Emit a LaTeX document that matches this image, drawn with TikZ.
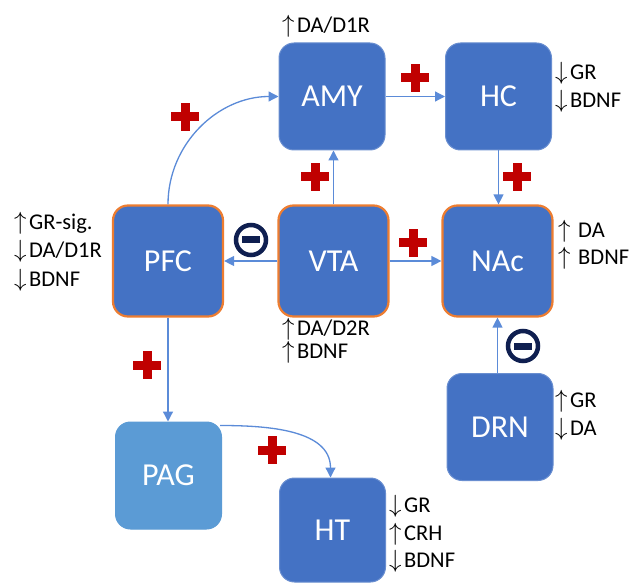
\documentclass[tikz,border=0pt]{standalone}
\usepackage{fontspec}
\setmainfont{Carlito}
\usetikzlibrary{arrows.meta,calc}
\definecolor{boxblue}{HTML}{4472C4}
\definecolor{pagblue}{HTML}{5B9BD5}
\definecolor{orng}{HTML}{ED7D31}
\definecolor{arrblue}{HTML}{5B8BD8}
\definecolor{plusred}{HTML}{C00000}
\definecolor{navy}{HTML}{0F1F50}
\newcommand{\up}{{\fontsize{24}{24}\selectfont$\uparrow$}\hspace{2.5pt}}
\newcommand{\dn}{{\fontsize{24}{24}\selectfont$\downarrow$}\hspace{2.5pt}}
\begin{document}
\begin{tikzpicture}[x=1pt,y=-1pt,
 region/.style={rounded corners=15pt, fill=boxblue, draw=boxblue!80!white, line width=1pt,
   minimum width=106pt, minimum height=107pt, text=white,
   font=\fontsize{32}{36}\selectfont, inner sep=0},
 hub/.style={region, draw=orng, line width=2.2pt, minimum width=110pt, minimum height=111pt},
 conn/.style={draw=arrblue, line width=1.3pt, -{Triangle[length=10pt,width=10pt]}},
 lbl/.style={anchor=base west, font=\fontsize{22.5}{26}\selectfont, inner sep=0},
 plus/.style={minimum size=28pt, inner sep=0,
   path picture={\fill[plusred] ([xshift=-14pt,yshift=-4.5pt]path picture bounding box.center) rectangle ([xshift=14pt,yshift=4.5pt]path picture bounding box.center);
   \fill[plusred] ([xshift=-4.5pt,yshift=-14pt]path picture bounding box.center) rectangle ([xshift=4.5pt,yshift=14pt]path picture bounding box.center);}},
 minus/.style={circle, draw=navy, line width=4.5pt, fill=white, minimum size=30pt, inner sep=0,
   path picture={\fill[navy] ([xshift=-9pt,yshift=-3.5pt]path picture bounding box.center) rectangle ([xshift=9pt,yshift=3.5pt]path picture bounding box.center);}},
]
\useasboundingbox[fill=white] (0,0) rectangle (638,583);

% regions
\node[region] (amy) at (332,96.5) {AMY};
\node[region] (hc) at (498.5,96.5) {HC};
\node[hub] (pfc) at (168,261) {PFC};
\node[hub] (vta) at (333.5,261) {VTA};
\node[hub] (nac) at (497.5,261) {NAc};
\node[region] (drn) at (500,427) {DRN};
\node[region, fill=pagblue, draw=pagblue] (pag) at (168.5,475.5) {PAG};
\node[region, minimum height=104pt] (ht) at (332.5,530) {HT};

% connectors
\draw[conn] (pfc.north) to[out=90,in=180] (amy.west);
\draw[conn] (amy.east) -- (hc.west);
\draw[conn] (vta.north) -- (vta.north |- amy.south);
\draw[conn] (hc.south) -- (hc.south |- nac.north);
\draw[conn] (vta.west) -- (pfc.east);
\draw[conn] (vta.east) -- (nac.west);
\draw[conn] (nac.south |- drn.north) -- (nac.south);
\draw[conn] (pfc.south) -- (pfc.south |- pag.north);
\coordinate (pagc) at ($(pag.north east)+(-2,4)$);
\draw[conn] (pagc) to[out=0,in=90] ([xshift=-2pt]ht.north);

% signs
\node[plus] (p1) at (185,117) {};
\node[plus] (p2) at (415,78) {};
\node[plus] (p3) at (315,177) {};
\node[plus] (p4) at (517,177) {};
\node[plus] (p5) at (413,243) {};
\node[plus] (p6) at (147,365) {};
\node[plus] (p7) at (272,450) {};
\node[minus] (m1) at (251,240) {};
\node[minus] (m2) at (523,346) {};

% labels
\node[lbl] (la1) at (282,33) {\up DA/D1R};
\node[lbl] (lh1) at (555,80) {\dn GR};
\node[lbl] (lh2) at (555,108) {\dn BDNF};
\node[lbl] (lp1) at (14,230) {\up GR-sig.};
\node[lbl] (lp2) at (14,258) {\dn DA/D1R};
\node[lbl] (lp3) at (14,287) {\dn BDNF};
\node[lbl] (lv1) at (282,335) {\up DA/D2R};
\node[lbl] (lv2) at (282,358) {\up BDNF};
\node[lbl] (ln1) at (558,237) {\up\ DA};
\node[lbl] (ln2) at (558,265) {\up\ BDNF};
\node[lbl] (ld1) at (555,407) {\up GR};
\node[lbl] (ld2) at (555,435) {\dn DA};
\node[lbl] (lt1) at (389,512) {\dn GR};
\node[lbl] (lt2) at (389,540) {\up CRH};
\node[lbl] (lt3) at (389,567) {\dn BDNF};
\end{tikzpicture}
\end{document}
